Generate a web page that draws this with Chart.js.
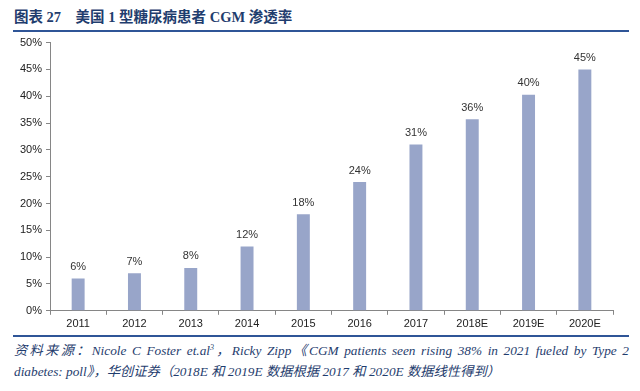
<!DOCTYPE html>
<html lang="zh-CN">
<head>
  <meta charset="UTF-8" />
  <title>美国1型糖尿病患者CGM渗透率</title>
  <script src="https://cdn.jsdelivr.net/npm/chart.js"></script>
  <style>
    body { margin: 0; width: 640px; height: 391px; background: #fff; position: relative; overflow: hidden; }
    #title {
      position: absolute; left: 14px; top: 5px;
      font-family: "Liberation Serif", "Noto Sans CJK SC", serif;
      font-weight: bold; font-size: 14.5px; color: #1f3d6e; white-space: pre;
    }
    .rule { position: absolute; left: 13px; width: 616px; height: 2px; background: #2f5597; }
    #wrap { position: absolute; left: 0; top: 32px; width: 640px; height: 302px; }
    #source {
      position: absolute; left: 14px; top: 340px; width: 615px;
      font-family: "Liberation Serif", "Noto Sans CJK SC", serif;
      font-style: italic; font-size: 13.3px; line-height: 21px; color: #1f3d6e;
      text-align: justify;
    }
    #source sup { font-size: 8px; line-height: 0; }
  </style>
</head>
<body>
  <div id="title">图表 27　美国 1 型糖尿病患者 CGM 渗透率</div>
  <div class="rule" style="top:30px"></div>
  <div id="wrap"><canvas id="chart"></canvas></div>
  <div class="rule" style="top:335px"></div>
  <div id="source">资料来源：Nicole C Foster et.al<sup>3</sup>，Ricky Zipp《CGM patients seen rising 38% in 2021 fueled by Type 2 diabetes: poll》，华创证券（2018E 和 2019E 数据根据 2017 和 2020E 数据线性得到）</div>

  <script>
    const years = ['2011', '2012', '2013', '2014', '2015', '2016', '2017', '2018E', '2019E', '2020E'];
    const penetration = [6, 7, 8, 12, 18, 24, 31, 35.7, 40.3, 45]; // %
    const yTicks = [0, 5, 10, 15, 20, 25, 30, 35, 40, 45, 50];

    // 柱顶标注
    const barLabels = {
      id: 'barLabels',
      afterDatasetsDraw(chart) {
        const ctx = chart.ctx;
        const meta = chart.getDatasetMeta(0);
        ctx.save();
        ctx.font = '11px "Liberation Sans", Arial, sans-serif';
        ctx.fillStyle = '#333';
        ctx.textAlign = 'center';
        ctx.textBaseline = 'bottom';
        meta.data.forEach((bar, i) => {
          ctx.fillText(Math.round(penetration[i]) + '%', bar.x, bar.y - 6);
        });
        ctx.restore();
      }
    };

    new Chart(document.getElementById('chart'), {
      type: 'bar',
      data: {
        labels: years,
        datasets: [{
          data: penetration,
          backgroundColor: '#98a5c9',
          barPercentage: 0.23,
          categoryPercentage: 1
        }]
      },
      options: {
        responsive: true,
        maintainAspectRatio: false,
        animation: false,
        layout: { padding: { top: 4, right: 27, bottom: 0, left: 0 } },
        plugins: { legend: { display: false }, tooltip: { enabled: false } },
        scales: {
          x: {
            grid: { display: true, drawOnChartArea: false, drawTicks: true, tickLength: 4, offset: true, color: '#868686' },
            border: { display: true, color: '#868686' },
            ticks: { color: '#222', font: { family: '"Liberation Sans", Arial, sans-serif', size: 11 }, padding: 3 }
          },
          y: {
            min: 0, max: 50,
            afterBuildTicks(scale) { scale.ticks = yTicks.map(v => ({ value: v })); },
            afterFit(scale) { scale.width = 50; },
            grid: { display: true, drawOnChartArea: false, drawTicks: true, tickLength: 4, color: '#868686' },
            border: { display: true, color: '#868686' },
            ticks: {
              color: '#222', font: { family: '"Liberation Sans", Arial, sans-serif', size: 11 }, padding: 4,
              callback: v => v + '%'
            }
          }
        }
      },
      plugins: [barLabels]
    });
  </script>
</body>
</html>
